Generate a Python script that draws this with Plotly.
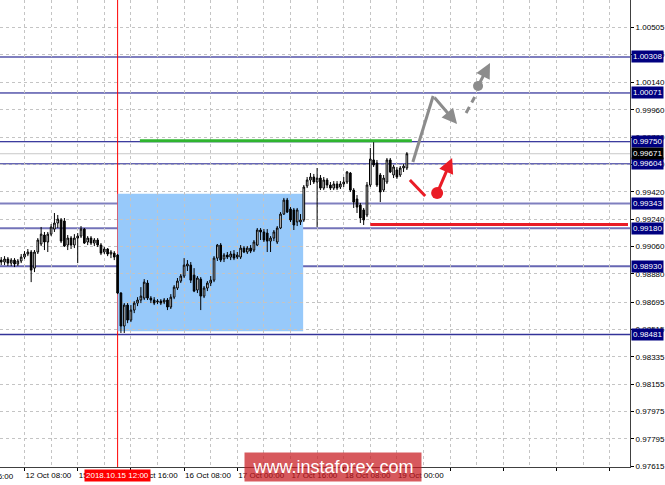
import plotly.graph_objects as go

# ---------------- DATA (H1 candles, 12 Oct 00:00 .. 19 Oct 03:00, weekend skipped) ----------------
opens = [
    0.98965, 0.98971, 0.98958, 0.98978, 0.98951, 0.98971, 0.98945, 0.98965, 0.98991, 0.99011,
    0.99024, 0.98918, 0.99024, 0.99077, 0.99136, 0.99090, 0.99142, 0.99175, 0.99215, 0.99235,
    0.99228, 0.99070, 0.99116, 0.99070, 0.99116, 0.99129, 0.99175, 0.99090, 0.99116, 0.99083,
    0.99103, 0.99070, 0.99024, 0.99044, 0.99011, 0.99017, 0.99004, 0.98754, 0.98537, 0.98675,
    0.98576, 0.98642, 0.98688, 0.98708, 0.98721, 0.98820, 0.98721, 0.98708, 0.98695, 0.98701,
    0.98695, 0.98708, 0.98662, 0.98727, 0.98787, 0.98833, 0.98866, 0.98932, 0.98938, 0.98872,
    0.98774, 0.98846, 0.98734, 0.98787, 0.98820, 0.98839, 0.98984, 0.99070, 0.98978, 0.99004,
    0.98991, 0.99011, 0.98991, 0.98991, 0.99050, 0.99024, 0.99050, 0.99037, 0.99070, 0.99169,
    0.99156, 0.99149, 0.99096, 0.99116, 0.99090, 0.99182, 0.99274, 0.99366, 0.99307, 0.99301,
    0.99222, 0.99222, 0.99235, 0.99459, 0.99498, 0.99518, 0.99485, 0.99511, 0.99445, 0.99498,
    0.99465, 0.99445, 0.99472, 0.99452, 0.99472, 0.99485, 0.99544, 0.99432, 0.99373, 0.99333,
    0.99301, 0.99268, 0.99465, 0.99630, 0.99610, 0.99531, 0.99432, 0.99485, 0.99630, 0.99531,
    0.99564, 0.99531, 0.99577, 0.99577,
]
highs = [
    0.98991, 0.98991, 0.98997, 0.98991, 0.98984, 0.98984, 0.98978, 0.99011, 0.99030, 0.99044,
    0.99037, 0.99037, 0.99116, 0.99189, 0.99156, 0.99156, 0.99208, 0.99281, 0.99268, 0.99248,
    0.99248, 0.99136, 0.99129, 0.99142, 0.99149, 0.99195, 0.99182, 0.99129, 0.99129, 0.99116,
    0.99116, 0.99083, 0.99057, 0.99050, 0.99037, 0.99030, 0.99011, 0.98760, 0.98688, 0.98688,
    0.98675, 0.98701, 0.98727, 0.98793, 0.98846, 0.98839, 0.98734, 0.98727, 0.98714, 0.98714,
    0.98721, 0.98721, 0.98747, 0.98806, 0.98853, 0.98879, 0.98984, 0.98971, 0.98958, 0.98918,
    0.98866, 0.98859, 0.98800, 0.98833, 0.98866, 0.98997, 0.99077, 0.99083, 0.99017, 0.99024,
    0.99030, 0.99037, 0.99024, 0.99070, 0.99063, 0.99063, 0.99070, 0.99103, 0.99182, 0.99182,
    0.99175, 0.99175, 0.99129, 0.99169, 0.99195, 0.99287, 0.99380, 0.99380, 0.99320, 0.99314,
    0.99314, 0.99274, 0.99465, 0.99518, 0.99544, 0.99538, 0.99577, 0.99531, 0.99518, 0.99511,
    0.99485, 0.99491, 0.99491, 0.99491, 0.99518, 0.99557, 0.99551, 0.99445, 0.99399, 0.99347,
    0.99314, 0.99485, 0.99709, 0.99748, 0.99630, 0.99544, 0.99531, 0.99643, 0.99643, 0.99597,
    0.99584, 0.99590, 0.99603, 0.99682,
]
lows = [
    0.98945, 0.98938, 0.98938, 0.98932, 0.98932, 0.98925, 0.98932, 0.98951, 0.98978, 0.98997,
    0.98826, 0.98892, 0.99011, 0.99063, 0.99037, 0.99024, 0.99129, 0.99156, 0.99182, 0.99083,
    0.99057, 0.99037, 0.99044, 0.99050, 0.98951, 0.99116, 0.99077, 0.99070, 0.99070, 0.99063,
    0.99057, 0.99004, 0.99011, 0.98997, 0.98984, 0.98971, 0.98747, 0.98491, 0.98491, 0.98556,
    0.98563, 0.98622, 0.98668, 0.98688, 0.98708, 0.98708, 0.98688, 0.98675, 0.98681, 0.98675,
    0.98681, 0.98642, 0.98649, 0.98714, 0.98774, 0.98820, 0.98853, 0.98899, 0.98820, 0.98760,
    0.98754, 0.98642, 0.98721, 0.98767, 0.98800, 0.98826, 0.98965, 0.98958, 0.98958, 0.98978,
    0.98971, 0.98971, 0.98978, 0.98978, 0.99017, 0.99011, 0.99017, 0.99024, 0.99063, 0.99103,
    0.99090, 0.99024, 0.99024, 0.99096, 0.99077, 0.99175, 0.99268, 0.99281, 0.99222, 0.99169,
    0.99195, 0.99202, 0.99222, 0.99445, 0.99465, 0.99472, 0.99189, 0.99432, 0.99432, 0.99445,
    0.99432, 0.99432, 0.99432, 0.99439, 0.99452, 0.99472, 0.99419, 0.99314, 0.99281, 0.99215,
    0.99202, 0.99254, 0.99452, 0.99584, 0.99452, 0.99353, 0.99419, 0.99472, 0.99544, 0.99511,
    0.99505, 0.99518, 0.99551, 0.99564,
]
closes = [
    0.98971, 0.98958, 0.98978, 0.98951, 0.98971, 0.98945, 0.98965, 0.98991, 0.99011, 0.99024,
    0.98905, 0.99024, 0.99103, 0.99142, 0.99090, 0.99142, 0.99189, 0.99215, 0.99241, 0.99096,
    0.99063, 0.99116, 0.99070, 0.99116, 0.99129, 0.99175, 0.99083, 0.99116, 0.99083, 0.99103,
    0.99070, 0.99017, 0.99044, 0.99011, 0.99024, 0.98991, 0.98754, 0.98537, 0.98675, 0.98576,
    0.98642, 0.98688, 0.98708, 0.98734, 0.98826, 0.98721, 0.98708, 0.98688, 0.98701, 0.98688,
    0.98708, 0.98662, 0.98727, 0.98793, 0.98833, 0.98866, 0.98938, 0.98945, 0.98839, 0.98767,
    0.98853, 0.98734, 0.98787, 0.98820, 0.98839, 0.98984, 0.99070, 0.98971, 0.99004, 0.98991,
    0.99011, 0.98984, 0.99004, 0.99050, 0.99024, 0.99050, 0.99030, 0.99090, 0.99169, 0.99156,
    0.99103, 0.99096, 0.99116, 0.99156, 0.99182, 0.99274, 0.99366, 0.99287, 0.99235, 0.99202,
    0.99301, 0.99235, 0.99452, 0.99498, 0.99518, 0.99485, 0.99511, 0.99445, 0.99498, 0.99465,
    0.99445, 0.99472, 0.99445, 0.99472, 0.99485, 0.99551, 0.99432, 0.99353, 0.99320, 0.99248,
    0.99235, 0.99465, 0.99636, 0.99597, 0.99465, 0.99419, 0.99511, 0.99630, 0.99551, 0.99584,
    0.99518, 0.99577, 0.99590, 0.99671,
]
assert len(opens) == len(highs) == len(lows) == len(closes) == 124

bar_index = list(range(len(opens)))     # one bar per trading hour

# time axis labels (bar index -> label)
x_label_idx = [8, 24, 40, 56, 72, 88, 104, 120, 136, 152, 168, 184]
x_label_txt = ["12 Oct 08:00", "15 Oct 00:00", "15 Oct 16:00", "16 Oct 08:00",
               "17 Oct 00:00", "17 Oct 16:00", "18 Oct 08:00", "19 Oct 00:00",
               "", "", "", ""]
x_grid_minor = [16, 32, 48, 64, 80, 96, 112, 128, 144, 160, 176]
prev_label_idx, prev_label_txt = -8, "11 Oct 16:00"

# price axis labels
y_ticks = [1.00505, 1.00325, 1.00140, 0.99960, 0.99780, 0.99600, 0.99420, 0.99240,
           0.99060, 0.98880, 0.98695, 0.98515, 0.98335, 0.98155, 0.97975, 0.97795, 0.97615]

# horizontal levels
levels = [1.00308, 1.00071, 0.99750, 0.99604, 0.99343, 0.99180, 0.98930, 0.98481]
current_price = 0.99671

# drawings (bar index, price)
zone_idx = [36, 91.8]
zone_price = [0.98502, 0.99408]
green_idx = [42.7, 124.5]
green_price = 0.99757
red_idx = [112.0, 189.5]
red_price = 0.99205
cross_idx = 36
cross_label = "2018.10.15 12:00"

gray_path_idx = [124.8, 130.9]
gray_path_price = [0.99617, 1.00051]
gray_arrow1 = [(130.9, 1.00051), (138.1, 0.99867)]
gray_dash_idx = [140.8, 143.4]
gray_dash_price = [0.99939, 1.00045]
gray_dot = (144.4, 1.00117)
gray_arrow2 = [(144.4, 1.00117), (148.0, 1.00268)]

red_path_idx = [123.9, 128.5]
red_path_price = [0.99498, 0.99393]
red_dot = (132.1, 0.99412)
red_arrow = [(132.1, 0.99412), (136.6, 0.99643)]

# ---------------- STYLE ----------------
FONT = "Liberation Sans"
NAVY = "#000080"
level_style = {
    1.00308: ("rgba(0,0,128,0.5)", 2),
    1.00071: (NAVY, 1),
    0.99750: (NAVY, 1),
    0.99604: ("rgba(0,0,128,0.8)", 1.3),
    0.99343: ("rgba(0,0,128,0.5)", 2),
    0.99180: ("rgba(0,0,128,0.55)", 2),
    0.98930: ("rgba(0,0,128,0.6)", 2),
    0.98481: ("rgba(0,0,128,0.8)", 1.5),
}
GRAY = "#8c8c8c"
RED = "#ea1c26"
GREEN = "#2fb52f"
GRID = "#c4c4c4"

x_range = [0.63, 190.1]
y_range = [0.97609, 1.00683]

fig = go.Figure()

fig.add_trace(go.Candlestick(
    x=bar_index, open=opens, high=highs, low=lows, close=closes,
    increasing=dict(line=dict(color="#000000", width=1), fillcolor="#ffffff"),
    decreasing=dict(line=dict(color="#000000", width=1), fillcolor="#000000"),
    whiskerwidth=0, showlegend=False, hoverinfo="skip",
))

# forecast drawings
fig.add_trace(go.Scatter(x=gray_path_idx, y=gray_path_price, mode="lines",
                         line=dict(color=GRAY, width=3), showlegend=False, hoverinfo="skip"))
fig.add_trace(go.Scatter(x=gray_dash_idx, y=gray_dash_price, mode="lines",
                         line=dict(color=GRAY, width=3, dash="7px,5px"), showlegend=False, hoverinfo="skip"))
fig.add_trace(go.Scatter(x=[gray_dot[0]], y=[gray_dot[1]], mode="markers",
                         marker=dict(color=GRAY, size=10), showlegend=False, hoverinfo="skip"))
fig.add_trace(go.Scatter(x=red_path_idx, y=red_path_price, mode="lines",
                         line=dict(color=RED, width=3), showlegend=False, hoverinfo="skip"))
fig.add_trace(go.Scatter(x=[red_dot[0]], y=[red_dot[1]], mode="markers",
                         marker=dict(color=RED, size=12), showlegend=False, hoverinfo="skip"))

shapes = []
shapes.append(dict(type="rect", xref="x", yref="y", x0=zone_idx[0], x1=zone_idx[1],
                   y0=zone_price[0], y1=zone_price[1], fillcolor="#97c9fa",
                   line=dict(width=0), layer="below"))
for lv in levels:
    col, w = level_style[lv]
    shapes.append(dict(type="line", xref="paper", yref="y", x0=0, x1=1, y0=lv, y1=lv,
                       line=dict(color=col, width=w), layer="between"))
shapes.append(dict(type="line", xref="paper", yref="y", x0=0, x1=1, y0=current_price,
                   y1=current_price, line=dict(color="#c8c8c8", width=1), layer="between"))
shapes.append(dict(type="line", xref="x", yref="y", x0=green_idx[0], x1=green_idx[1],
                   y0=green_price, y1=green_price, line=dict(color=GREEN, width=3), layer="above"))
shapes.append(dict(type="line", xref="x", yref="y", x0=red_idx[0], x1=red_idx[1],
                   y0=red_price, y1=red_price, line=dict(color=RED, width=3), layer="above"))
shapes.append(dict(type="line", xref="x", yref="paper", x0=cross_idx, x1=cross_idx,
                   y0=0, y1=1, line=dict(color="#ff0000", width=1), layer="between"))

annotations = []
for lv in levels:
    annotations.append(dict(xref="paper", x=1, xanchor="left", xshift=1, yref="y", y=lv,
                            yanchor="middle", text=f"{lv:.5f}", showarrow=False,
                            font=dict(family=FONT, size=8, color="white"),
                            bgcolor=NAVY, borderpad=1))
annotations.append(dict(xref="paper", x=1, xanchor="left", xshift=1, yref="y", y=current_price,
                        yanchor="middle", text=f"{current_price:.5f}", showarrow=False,
                        font=dict(family=FONT, size=8, color="white"),
                        bgcolor="#000000", borderpad=1))
# arrows
for (tail, head, col) in [(gray_arrow1[0], gray_arrow1[1], GRAY),
                          (gray_arrow2[0], gray_arrow2[1], GRAY),
                          (red_arrow[0], red_arrow[1], RED)]:
    annotations.append(dict(xref="x", yref="y", x=head[0], y=head[1],
                            axref="x", ayref="y", ax=tail[0], ay=tail[1],
                            text="", showarrow=True, arrowhead=2, arrowsize=1,
                            arrowwidth=3, arrowcolor=col, standoff=0, startstandoff=0))
# crosshair date label
annotations.append(dict(xref="x", x=cross_idx, xanchor="center", yref="paper", y=0,
                        yanchor="top", yshift=-2, text=cross_label, showarrow=False,
                        font=dict(family=FONT, size=8, color="white"),
                        bgcolor="#ff0000", borderpad=1))
# partially visible first time label
annotations.append(dict(xref="paper", x=(prev_label_idx - x_range[0]) / (x_range[1] - x_range[0]),
                        xanchor="left", xshift=-5, yref="paper", y=0, yanchor="top", yshift=-3,
                        text=prev_label_txt, showarrow=False,
                        font=dict(family=FONT, size=8, color="black")))
# watermark
annotations.append(dict(xref="paper", x=0.529, xanchor="center", yref="paper", y=0,
                        yanchor="middle", text="www.instaforex.com", showarrow=False,
                        font=dict(family=FONT, size=18, color="white"),
                        bgcolor="rgba(200,25,30,0.72)", width=172, height=24, borderpad=2))

fig.update_layout(
    template="none",
    width=665, height=485,
    margin=dict(l=0, r=35, t=0, b=18, pad=0),
    paper_bgcolor="white", plot_bgcolor="white",
    showlegend=False,
    font=dict(family=FONT, size=8, color="black"),
    shapes=shapes, annotations=annotations,
    xaxis=dict(
        range=x_range, rangeslider=dict(visible=False),
        tickmode="array", tickvals=x_label_idx, ticktext=x_label_txt,
        ticks="outside", ticklen=3, tickcolor="#000000", tickangle=0,
        ticklabelposition="outside right",
        tickfont=dict(family=FONT, size=8, color="black"),
        showgrid=True, gridcolor=GRID, griddash="3px,3px", gridwidth=1,
        minor=dict(tickvals=x_grid_minor, showgrid=True, gridcolor=GRID,
                   griddash="3px,3px", ticks=""),
        showline=True, linecolor="#404040", linewidth=1, zeroline=False,
        automargin=False, fixedrange=True,
    ),
    yaxis=dict(
        side="right", range=y_range,
        tickmode="array", tickvals=y_ticks, ticktext=[f"{v:.5f}" for v in y_ticks],
        ticks="outside", ticklen=3, tickcolor="#000000",
        tickfont=dict(family=FONT, size=8, color="black"),
        showgrid=True, gridcolor=GRID, griddash="3px,3px", gridwidth=1,
        showline=True, linecolor="#404040", linewidth=1, zeroline=False,
        automargin=False, fixedrange=True,
    ),
)

fig.write_html("out.html", config={"displayModeBar": False},
               post_script="document.body.style.margin='0px';document.body.style.overflow='hidden';")
